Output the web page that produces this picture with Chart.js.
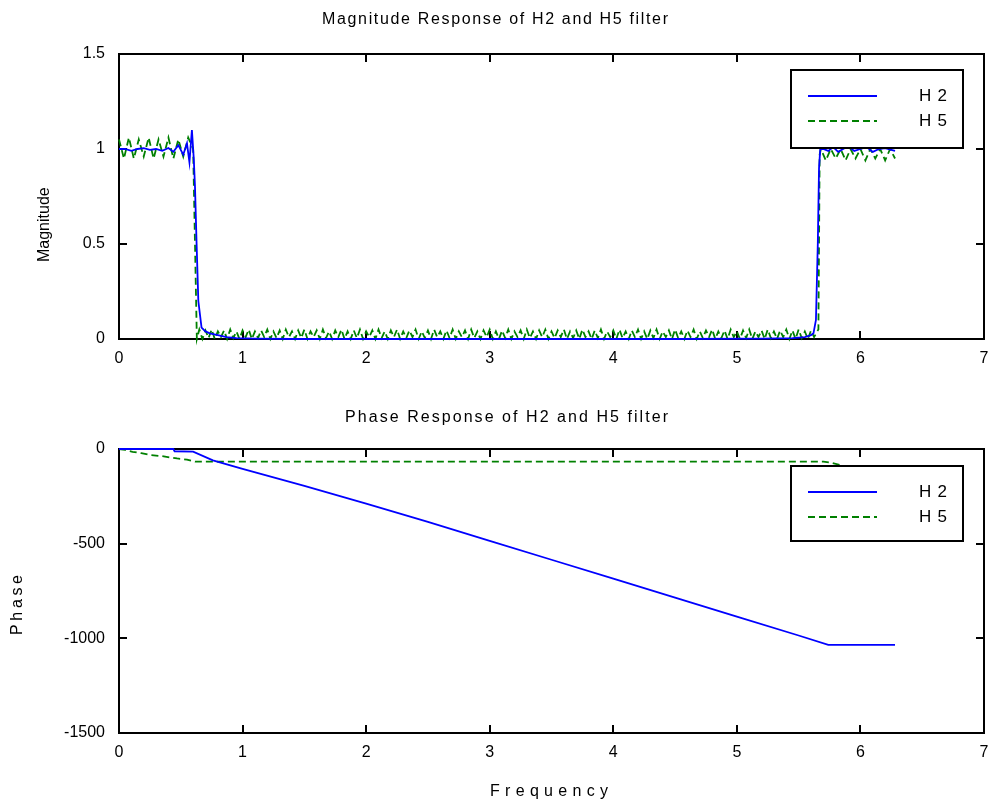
<!DOCTYPE html>
<html>
<head>
<meta charset="utf-8">
<script src="https://cdn.jsdelivr.net/npm/chart.js@4.4.1/dist/chart.umd.min.js"></script>
<style>
  html, body { margin: 0; padding: 0; background: #fff; }
  #wrap { position: relative; width: 992px; height: 803px; }
  canvas { position: absolute; left: 0; }
  #magChart { top: 0; }
  #phaseChart { top: 400px; }
</style>
</head>
<body>
<div id="wrap">
  <canvas id="magChart" width="992" height="400"></canvas>
  <canvas id="phaseChart" width="992" height="403"></canvas>
</div>
<script>
// ---- data ----
const seriesNames = ['H2', 'H5'];
const freqTicks = [0, 1, 2, 3, 4, 5, 6, 7];
const magTicks = [0, 0.5, 1, 1.5];
const phaseTicks = [-1500, -1000, -500, 0];

const h2MagFreq = [0, 0.05, 0.1, 0.15, 0.2, 0.25, 0.3, 0.35, 0.4,
    0.44, 0.48, 0.52, 0.55, 0.57, 0.59, 0.605, 0.615, 0.628, 0.642,
    0.668, 0.7, 0.735, 0.8, 0.87, 0.95, 1.1, 1.4, 1.8, 2.5,
    3.5, 4.5, 5.2, 5.45, 5.55, 5.6, 5.62, 5.64, 5.655, 5.665,
    5.675, 5.7, 5.74, 5.78, 5.82, 5.86, 5.9, 5.95, 6.0, 6.05,
    6.1, 6.15, 6.2, 6.28];
const h2Mag = [1.0, 1.0, 0.99, 1.0, 1.005, 0.995, 1.0, 0.99, 1.005,
    0.985, 1.02, 0.97, 1.03, 0.93, 1.1, 0.95, 0.8, 0.5, 0.2,
    0.06, 0.04, 0.03, 0.02, 0.01, 0.005, 0.002, 0.0, 0.0, 0.0,
    0.0, 0.0, 0.002, 0.005, 0.01, 0.02, 0.03, 0.1, 0.5, 0.9,
    1.0, 1.0, 0.99, 1.01, 0.985, 1.0, 1.015, 0.99, 1.0, 1.01,
    0.985, 1.0, 1.005, 0.99];

// H5 passband, transition and stopband (stopband ripple read every 0.025 rad)
const h5MagFreq = [
    0.00, 0.04, 0.08, 0.12, 0.16, 0.20, 0.24, 0.28, 0.32, 0.36,
    0.40, 0.44, 0.48, 0.52, 0.56, 0.60, 0.63,
    0.650, 0.675, 0.700, 0.725, 0.750, 0.775, 0.800, 0.825,
    0.850, 0.875, 0.900, 0.925, 0.950, 0.975, 1.000, 1.025,
    1.050, 1.075, 1.100, 1.125, 1.150, 1.175, 1.200, 1.225,
    1.250, 1.275, 1.300, 1.325, 1.350, 1.375, 1.400, 1.425,
    1.450, 1.475, 1.500, 1.525, 1.550, 1.575, 1.600, 1.625,
    1.650, 1.675, 1.700, 1.725, 1.750, 1.775, 1.800, 1.825,
    1.850, 1.875, 1.900, 1.925, 1.950, 1.975, 2.000, 2.025,
    2.050, 2.075, 2.100, 2.125, 2.150, 2.175, 2.200, 2.225,
    2.250, 2.275, 2.300, 2.325, 2.350, 2.375, 2.400, 2.425,
    2.450, 2.475, 2.500, 2.525, 2.550, 2.575, 2.600, 2.625,
    2.650, 2.675, 2.700, 2.725, 2.750, 2.775, 2.800, 2.825,
    2.850, 2.875, 2.900, 2.925, 2.950, 2.975, 3.000, 3.025,
    3.050, 3.075, 3.100, 3.125, 3.150, 3.175, 3.200, 3.225,
    3.250, 3.275, 3.300, 3.325, 3.350, 3.375, 3.400, 3.425,
    3.450, 3.475, 3.500, 3.525, 3.550, 3.575, 3.600, 3.625,
    3.650, 3.675, 3.700, 3.725, 3.750, 3.775, 3.800, 3.825,
    3.850, 3.875, 3.900, 3.925, 3.950, 3.975, 4.000, 4.025,
    4.050, 4.075, 4.100, 4.125, 4.150, 4.175, 4.200, 4.225,
    4.250, 4.275, 4.300, 4.325, 4.350, 4.375, 4.400, 4.425,
    4.450, 4.475, 4.500, 4.525, 4.550, 4.575, 4.600, 4.625,
    4.650, 4.675, 4.700, 4.725, 4.750, 4.775, 4.800, 4.825,
    4.850, 4.875, 4.900, 4.925, 4.950, 4.975, 5.000, 5.025,
    5.050, 5.075, 5.100, 5.125, 5.150, 5.175, 5.200, 5.225,
    5.250, 5.275, 5.300, 5.325, 5.350, 5.375, 5.400, 5.425,
    5.450, 5.475, 5.500, 5.525, 5.550, 5.575, 5.600, 5.625,
    5.650, 5.660,
    5.67, 5.68, 5.72, 5.76, 5.80, 5.84, 5.88, 5.92, 5.96, 6.00,
    6.04, 6.08, 6.12, 6.16, 6.20, 6.24, 6.28];
const h5Mag = [
    1.05, 0.95, 1.06, 0.95, 1.05, 0.96, 1.06, 0.95, 1.05, 0.96,
    1.06, 0.95, 1.05, 0.96, 1.06, 1.0, 0.0,
    0.05, 0.00, 0.045, 0.005, 0.05, 0.00, 0.04, 0.01,
    0.045, 0.00, 0.05, 0.005, 0.04, 0.00, 0.045, 0.01,
    0.05, 0.00, 0.04, 0.005, 0.045, 0.01, 0.05, 0.00,
    0.04, 0.005, 0.045, 0.00, 0.05, 0.01, 0.04, 0.00,
    0.045, 0.005, 0.05, 0.00, 0.04, 0.01, 0.045, 0.00,
    0.05, 0.005, 0.04, 0.00, 0.045, 0.01, 0.05, 0.00,
    0.04, 0.00, 0.045, 0.005, 0.05, 0.00, 0.04, 0.01,
    0.045, 0.00, 0.05, 0.005, 0.04, 0.00, 0.045, 0.01,
    0.05, 0.00, 0.04, 0.005, 0.045, 0.01, 0.05, 0.00,
    0.04, 0.005, 0.045, 0.00, 0.05, 0.01, 0.04, 0.00,
    0.045, 0.005, 0.05, 0.00, 0.04, 0.01, 0.045, 0.00,
    0.05, 0.005, 0.04, 0.00, 0.045, 0.01, 0.05, 0.00,
    0.04, 0.00, 0.045, 0.005, 0.05, 0.00, 0.04, 0.01,
    0.045, 0.00, 0.05, 0.005, 0.04, 0.00, 0.045, 0.01,
    0.05, 0.00, 0.04, 0.005, 0.045, 0.01, 0.05, 0.00,
    0.04, 0.005, 0.045, 0.00, 0.05, 0.01, 0.04, 0.00,
    0.045, 0.005, 0.05, 0.00, 0.04, 0.01, 0.045, 0.00,
    0.05, 0.005, 0.04, 0.00, 0.045, 0.01, 0.05, 0.00,
    0.04, 0.00, 0.045, 0.005, 0.05, 0.00, 0.04, 0.01,
    0.045, 0.00, 0.05, 0.005, 0.04, 0.00, 0.045, 0.01,
    0.05, 0.00, 0.04, 0.005, 0.045, 0.01, 0.05, 0.00,
    0.04, 0.005, 0.045, 0.00, 0.05, 0.01, 0.04, 0.00,
    0.045, 0.005, 0.05, 0.00, 0.04, 0.01, 0.045, 0.00,
    0.05, 0.005, 0.04, 0.00, 0.045, 0.01, 0.05, 0.00,
    0.045, 0.00, 0.05, 0.005, 0.04, 0.00, 0.045, 0.01,
    0.04, 0.05,
    0.97, 1.0, 0.94, 1.0, 0.95, 1.0, 0.94, 1.0, 0.95, 1.0,
    0.94, 1.0, 0.95, 1.0, 0.94, 1.0, 0.95];

const h2PhaseFreq = [0, 0.44, 0.45, 0.6, 0.76, 1.0, 1.5, 2.0, 2.5, 3.0,
    3.5, 4.0, 4.5, 5.0, 5.5, 5.74, 6.28];
const h2Phase = [0, 0, -12, -14, -60, -105, -195, -288, -385, -485,
    -585, -685, -785, -885, -985, -1035, -1035];

const h5PhaseFreq = [0, 0.05, 0.11, 0.18, 0.26, 0.35, 0.42, 0.47, 0.55, 0.6,
    0.62, 1.0, 2.0, 3.0, 4.0, 5.0, 5.7, 5.76, 5.84];
const h5Phase = [0, -5, -15, -22, -32, -38, -45, -50, -56, -64,
    -67, -67, -67, -67, -67, -67, -67, -72, -85];

// ---- styling ----
const FONT_FAMILY = '"Liberation Sans", Arial, Helvetica, sans-serif';
const BLUE = '#0000ff';
const GREEN = '#008000';
const DASH = [7, 4];
const LINE_W = 1.8;

Chart.defaults.font.family = FONT_FAMILY;
Chart.defaults.font.size = 16;
Chart.defaults.color = '#000';

function toPoints(xs, ys) {
    return xs.map((x, i) => ({ x: x, y: ys[i] }));
}

// text stretched between two points, like the letter-spaced labels of the figure
function spacedText(ctx, text, x, y, length, vertical, size) {
    ctx.save();
    ctx.font = size + 'px ' + FONT_FAMILY;
    ctx.letterSpacing = '0px';
    const w = ctx.measureText(text).width;
    const sp = Math.max(0, (length - w) / (text.length - 1));
    ctx.letterSpacing = sp + 'px';
    ctx.fillStyle = '#000';
    ctx.textAlign = 'left';
    ctx.textBaseline = 'middle';
    ctx.translate(x, y);
    if (vertical) ctx.rotate(-Math.PI / 2);
    ctx.fillText(text, 0, 0);
    ctx.restore();
}

// matlab style box with inward ticks
const boxPlugin = {
    id: 'matlabBox',
    beforeDatasetsDraw(chart) {
        const { ctx, chartArea: a, scales } = chart;
        const tick = 8;
        ctx.save();
        ctx.strokeStyle = '#000';
        ctx.lineWidth = 2;
        ctx.beginPath();
        scales.x.ticks.forEach(t => {
            const px = Math.round(scales.x.getPixelForValue(t.value));
            ctx.moveTo(px, a.bottom); ctx.lineTo(px, a.bottom - tick);
            ctx.moveTo(px, a.top); ctx.lineTo(px, a.top + tick);
        });
        scales.y.ticks.forEach(t => {
            const py = Math.round(scales.y.getPixelForValue(t.value));
            ctx.moveTo(a.left, py); ctx.lineTo(a.left + tick, py);
            ctx.moveTo(a.right, py); ctx.lineTo(a.right - tick, py);
        });
        ctx.stroke();
        ctx.strokeRect(a.left, a.top, a.right - a.left, a.bottom - a.top);
        ctx.restore();
    }
};

// boxed legend drawn inside the axes, plus titles
const textPlugin = {
    id: 'figText',
    afterDatasetsDraw(chart, args, opts) {
        const ctx = chart.ctx;
        const lg = opts.legend;
        ctx.save();
        ctx.fillStyle = '#fff';
        ctx.fillRect(lg.x, lg.y, lg.w, lg.h);
        ctx.strokeStyle = '#000';
        ctx.lineWidth = 2;
        ctx.strokeRect(lg.x, lg.y, lg.w, lg.h);
        chart.data.datasets.forEach((ds, i) => {
            const yy = lg.y + 26 + i * 25;
            ctx.beginPath();
            ctx.strokeStyle = ds.borderColor;
            ctx.lineWidth = ds.borderWidth;
            ctx.setLineDash(ds.borderDash || []);
            ctx.moveTo(lg.x + 17, yy);
            ctx.lineTo(lg.x + 86, yy);
            ctx.stroke();
            ctx.setLineDash([]);
            spacedText(ctx, ds.label, lg.x + 128, yy, 28, false, 17);
        });
        ctx.restore();
        opts.texts.forEach(t => spacedText(ctx, t.text, t.x, t.y, t.len, t.vertical, 16));
    }
};

function makeChart(id, datasets, yMin, yMax, yTicks, pad, texts, legend) {
    const ctx = document.getElementById(id).getContext('2d');
    return new Chart(ctx, {
        type: 'line',
        data: { datasets: datasets },
        options: {
            responsive: false,
            animation: false,
            layout: { padding: pad },
            elements: { point: { radius: 0 }, line: { tension: 0 } },
            plugins: {
                legend: { display: false },
                tooltip: { enabled: false },
                figText: { texts: texts, legend: legend }
            },
            scales: {
                x: {
                    type: 'linear',
                    min: freqTicks[0],
                    max: freqTicks[freqTicks.length - 1],
                    grid: { display: false, drawTicks: false },
                    border: { display: false },
                    afterBuildTicks: s => { s.ticks = freqTicks.map(v => ({ value: v })); },
                    afterFit: s => { s.height = 40; s.paddingLeft = 0; s.paddingRight = 0; },
                    ticks: { padding: 10, maxRotation: 0 }
                },
                y: {
                    type: 'linear',
                    min: yMin,
                    max: yMax,
                    grid: { display: false, drawTicks: false },
                    border: { display: false },
                    afterBuildTicks: s => { s.ticks = yTicks.map(v => ({ value: v })); },
                    afterFit: s => { s.width = 119; s.paddingTop = 0; s.paddingBottom = 0; },
                    ticks: { padding: 14, callback: v => String(v) }
                }
            }
        },
        plugins: [boxPlugin, textPlugin]
    });
}

makeChart('magChart', [
    { label: seriesNames[0], data: toPoints(h2MagFreq, h2Mag), borderColor: BLUE, borderWidth: LINE_W, clip: false },
    { label: seriesNames[1], data: toPoints(h5MagFreq, h5Mag), borderColor: GREEN, borderWidth: LINE_W, borderDash: DASH, clip: false }
], 0, 1.5, magTicks,
    { left: 0, right: 8, top: 54, bottom: 21 },
    [
        { text: 'Magnitude Response of H2 and H5 filter', x: 322, y: 20, len: 346 },
        { text: 'Magnitude', x: 45, y: 262, len: 72, vertical: true }
    ],
    { x: 791, y: 70, w: 172, h: 78 });

makeChart('phaseChart', [
    { label: seriesNames[0], data: toPoints(h2PhaseFreq, h2Phase), borderColor: BLUE, borderWidth: LINE_W, clip: false },
    { label: seriesNames[1], data: toPoints(h5PhaseFreq, h5Phase), borderColor: GREEN, borderWidth: LINE_W, borderDash: DASH, clip: false }
], -1500, 0, phaseTicks,
    { left: 0, right: 8, top: 49, bottom: 30 },
    [
        { text: 'Phase Response of H2 and H5 filter', x: 345, y: 18, len: 323 },
        { text: 'Phase', x: 18, y: 235, len: 60, vertical: true },
        { text: 'Frequency', x: 490, y: 392, len: 118 }
    ],
    { x: 791, y: 66, w: 172, h: 75 });
</script>
</body>
</html>
